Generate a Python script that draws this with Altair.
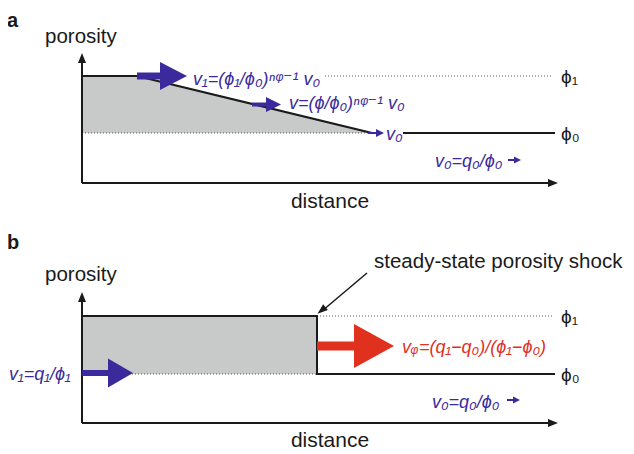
import altair as alt
import pandas as pd

# Diagram coordinates are given in page pixels (x to the right, y downward)
BLUE = "#3a2a9c"
RED = "#e0301e"
GRAY = "#c8c9c9"
INK = "#1a1a1a"

# ---- shaded porosity regions ----
shade_id = ["a", "a", "a", "b", "b"]
shade_x = [82, 137, 372, 82, 317]
shade_top = [76, 76, 133, 316, 316]
shade_bot = [133, 133, 133, 374, 374]

# ---- porosity profiles (solid black) ----
prof_id = ["a1", "a1", "a1", "a2", "a2", "b1", "b1", "b1", "b1"]
prof_x = [82, 137, 372, 403, 555, 82, 317, 317, 555]
prof_y = [76, 76, 133, 133, 133, 316, 316, 374, 374]
prof_ord = [0, 1, 2, 0, 1, 0, 1, 2, 3]

# ---- dotted reference levels ----
dot_x1 = [325, 82, 317, 132]
dot_x2 = [553, 372, 553, 317]
dot_y = [76, 133, 316, 374]

# ---- axes ----
ax_x = [82, 82]
ax_top = [59, 298]
ax_bottom = [183, 423]
ax_right = [553, 553]
axhead_x = [82, 553, 82, 553]
axhead_y = [58, 183, 297, 423]
axhead_angle = [270, 0, 270, 0]

# ---- velocity arrows ----
arr_x1 = [137, 252, 368, 508, 82, 317, 507]
arr_x2 = [160, 266, 376, 514, 108, 354, 513]
arr_y = [76, 104.5, 133, 160, 373, 346, 400]
arr_w = [7, 4, 2, 2, 6, 9, 2]
arr_len = [27, 15, 8, 7, 25, 40, 7]
arr_h = [28, 15, 8, 7, 29, 44, 7]
arr_col = [BLUE, BLUE, BLUE, BLUE, BLUE, RED, BLUE]

# ---- shock annotation arrow ----
ann_x = [367]
ann_y = [273]
ann_x2 = [322]
ann_y2 = [311]
ann_head_x = [321.5]
ann_head_y = [310.5]
ann_head_angle = [140]

# ---- texts ----
panel_txt = ["a", "b"]
panel_x = [7, 7]
panel_y = [27, 249]

lab_txt = ["porosity", "distance", "porosity", "distance", "steady-state porosity shock"]
lab_x = [45, 330, 45, 330, 374]
lab_y = [43, 208, 281, 447, 268]
lab_size = [20.5, 21, 20.5, 21, 20.5]
lab_align = ["left", "center", "left", "center", "left"]

phi_txt = ["ϕ₁", "ϕ₀", "ϕ₁", "ϕ₀"]
phi_x = [561, 561, 561, 561]
phi_y = [83, 140, 323, 381]

eq_txt = ["v₁=(ϕ₁/ϕ₀)ⁿᵠ⁻¹ v₀", "v=(ϕ/ϕ₀)ⁿᵠ⁻¹ v₀", "v₀", "v₀=q₀/ϕ₀",
          "v₁=q₁/ϕ₁", "vᵩ=(q₁−q₀)/(ϕ₁−ϕ₀)", "v₀=q₀/ϕ₀"]
eq_x = [193, 289, 386, 435, 9, 402, 432]
eq_y = [85, 109, 140, 167, 380, 353, 408]
eq_col = [BLUE, BLUE, BLUE, BLUE, BLUE, RED, BLUE]

FONT = "Liberation Sans, Arial, DejaVu Sans"

# scales mapping page pixels onto the plot area (page margin 8px)
xs = alt.Scale(domain=[8, 626], nice=False, zero=False)
ys = alt.Scale(domain=[8, 454], nice=False, zero=False, reverse=True)
X = lambda f: alt.X(f, type="quantitative", scale=xs, axis=None)
Y = lambda f: alt.Y(f, type="quantitative", scale=ys, axis=None)

shade = pd.DataFrame({"id": shade_id, "x": shade_x, "top": shade_top, "bot": shade_bot})
prof = pd.DataFrame({"id": prof_id, "x": prof_x, "y": prof_y, "o": prof_ord})
dots = pd.DataFrame({"x1": dot_x1, "x2": dot_x2, "y": dot_y})
axv = pd.DataFrame({"x": ax_x, "y1": ax_top, "y2": ax_bottom})
axh = pd.DataFrame({"x1": ax_x, "x2": ax_right, "y": ax_bottom})
axhd = pd.DataFrame({"x": axhead_x, "y": axhead_y, "a": axhead_angle})
arr = pd.DataFrame({"x1": arr_x1, "x2": arr_x2, "y": arr_y, "w": arr_w,
                    "len": arr_len, "h": arr_h, "c": arr_col})
arr["hx"] = arr["x2"] + arr["len"] / 2
arr["size"] = arr["h"] ** 2
arr["shape"] = [f"M-{l / h:.3f},-1L{l / h:.3f},0L-{l / h:.3f},1Z" for l, h in zip(arr_len, arr_h)]
ann = pd.DataFrame({"x": ann_x, "y": ann_y, "x2": ann_x2, "y2": ann_y2})
annh = pd.DataFrame({"x": ann_head_x, "y": ann_head_y, "a": ann_head_angle})
panel = pd.DataFrame({"t": panel_txt, "x": panel_x, "y": panel_y})
labs = pd.DataFrame({"t": lab_txt, "x": lab_x, "y": lab_y, "s": lab_size, "al": lab_align})
phis = pd.DataFrame({"t": phi_txt, "x": phi_x, "y": phi_y})
eqs = pd.DataFrame({"t": eq_txt, "x": eq_x, "y": eq_y, "c": eq_col})

layers = []
layers.append(alt.Chart(shade).mark_area(color=GRAY, opacity=1).encode(
    x=X("x"), y=Y("top"), y2="bot", detail="id:N"))
layers.append(alt.Chart(dots).mark_rule(color="#555555", strokeWidth=1, strokeDash=[1, 2]).encode(
    x=X("x1"), x2="x2", y=Y("y")))
layers.append(alt.Chart(prof).mark_line(color=INK, strokeWidth=2).encode(
    x=X("x"), y=Y("y"), detail="id:N", order="o:Q"))
layers.append(alt.Chart(axv).mark_rule(color=INK, strokeWidth=2).encode(
    x=X("x"), y=Y("y1"), y2="y2"))
layers.append(alt.Chart(axh).mark_rule(color=INK, strokeWidth=2).encode(
    x=X("x1"), x2="x2", y=Y("y")))
layers.append(alt.Chart(axhd).mark_point(filled=True, color=INK, opacity=1, size=100,
                                          shape="M-1,-0.8L1,0L-1,0.8Z", strokeWidth=0).encode(
    x=X("x"), y=Y("y"), angle=alt.Angle("a:Q", scale=None)))
layers.append(alt.Chart(arr).mark_rule().encode(
    x=X("x1"), x2="x2", y=Y("y"),
    color=alt.Color("c:N", scale=None),
    strokeWidth=alt.StrokeWidth("w:Q", scale=None)))
layers.append(alt.Chart(arr).mark_point(filled=True, opacity=1, strokeWidth=0).encode(
    x=X("hx"), y=Y("y"),
    color=alt.Color("c:N", scale=None),
    size=alt.Size("size:Q", scale=None),
    shape=alt.Shape("shape:N", scale=None)))
layers.append(alt.Chart(ann).mark_rule(color=INK, strokeWidth=1.5).encode(
    x=X("x"), y=Y("y"), x2="x2", y2="y2"))
layers.append(alt.Chart(annh).mark_point(filled=True, color=INK, opacity=1, size=110,
                                          shape="M-1,-0.7L1,0L-1,0.7Z", strokeWidth=0).encode(
    x=X("x"), y=Y("y"), angle=alt.Angle("a:Q", scale=None)))
layers.append(alt.Chart(panel).mark_text(font=FONT, fontWeight="bold", fontSize=20, align="left",
                                          baseline="alphabetic", color=INK).encode(
    x=X("x"), y=Y("y"), text="t:N"))
for al in ["left", "center"]:
    layers.append(alt.Chart(labs[labs["al"] == al]).mark_text(font=FONT, align=al,
                                                               baseline="alphabetic", color=INK).encode(
        x=X("x"), y=Y("y"), text="t:N", size=alt.Size("s:Q", scale=None)))
layers.append(alt.Chart(phis).mark_text(font=FONT, fontSize=19, align="left",
                                         baseline="alphabetic", color=INK).encode(
    x=X("x"), y=Y("y"), text="t:N"))
layers.append(alt.Chart(eqs).mark_text(font=FONT, fontSize=18, fontStyle="italic", align="left",
                                        baseline="alphabetic").encode(
    x=X("x"), y=Y("y"), text="t:N", color=alt.Color("c:N", scale=None)))

chart = alt.layer(*layers).properties(
    width=618, height=446, padding=0,
    autosize=alt.AutoSizeParams(type="none"),
).configure_view(stroke=None)

chart.save("out.html", embed_options={"renderer": "svg", "actions": False})
